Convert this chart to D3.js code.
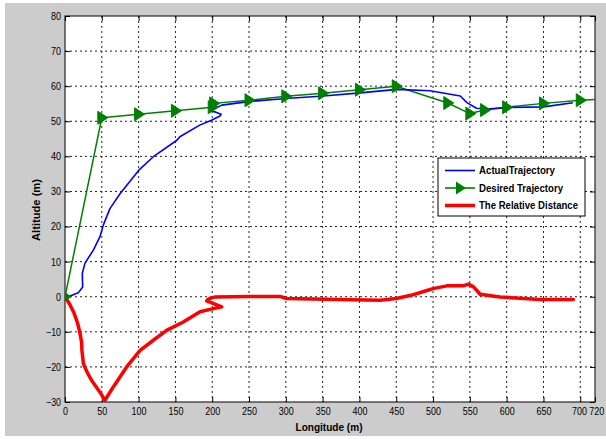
<!DOCTYPE html>
<html><head><meta charset="utf-8">
<script src="https://cdn.jsdelivr.net/npm/d3@7"></script>
<style>
body{margin:0;padding:0;background:#fff;}
svg{display:block;}
text{font-family:'Liberation Sans',Arial,sans-serif;}
</style></head>
<body>
<svg id="chart" width="606" height="439"></svg>
<script>
// ---- data ----
const xTicks = [0,50,100,150,200,250,300,350,400,450,500,550,600,650,700,720];
const yTicks = [-30,-20,-10,0,10,20,30,40,50,60,70,80];
const seriesNames = ["ActualTrajectory","Desired Trajectory","The Relative Distance"];

const desiredX = [0,50,100,150,200,202,250,300,350,400,450,520,550,570,600,650,700,720];
const desiredY = [0,51,52,53,54,55.1,56,57.1,58,59,60,55.2,52.2,53.2,54,55.1,56,56.2];
const desiredMarked = [1,1,1,1,1,1,1,1,1,1,1,1,1,1,1,1,1,0];

const actualX = [0,7,18,24,23.5,27,38.5,47.5,52,61,75,100,120,152,156,183,199,210.5,212,205,197,205,213,249,300,351,401,451,496,537,546,559,573,600,650,690];
const actualY = [0,0.2,1.1,2.8,6.6,9.5,13.3,17.1,20.4,25.1,29.4,36,39.9,44.6,45.6,48.9,50.3,51.5,52,52.6,53,53.8,54.6,55.6,56.5,57.2,58.1,59.1,58.7,57.2,55.3,53.7,53.5,53.9,54.1,55.3];

const distX = [0,6,12,17,20,22.6,23,25,30,36,47.5,54.3,65.6,83.8,102,120,138,160.7,183.4,201.5,213,192.5,195,204,251,292,301,428,450,470,495,500,518.6,541,548,555,564,591,645,690.6];
const distY = [0,-2,-4.5,-7.5,-10,-13,-15.3,-19.1,-21.5,-23.8,-27.2,-29.5,-25.7,-20,-15.3,-12.4,-9.6,-7.2,-4.3,-3.4,-2.9,-1.2,-0.6,-0.06,0.1,0.1,-0.5,-1,-0.5,0.4,2.0,2.3,3.1,3.1,3.6,2.8,0.7,-0.06,-0.8,-0.8];

const colors = {actual:"#0000ff", desired:"#008000", dist:"#ff0000"};

// ---- layout ----
const svg = d3.select("#chart");
const L=65, R=595, T=16, B=402;
svg.append("rect").attr("x",5).attr("y",3).attr("width",601).attr("height",433).attr("fill","#cccccc");
svg.append("rect").attr("x",L).attr("y",T).attr("width",R-L).attr("height",B-T).attr("fill","#ffffff");

const x = d3.scaleLinear().domain([0,720]).range([L,R]);
const y = d3.scaleLinear().domain([-30,80]).range([B,T]);

// grid
const grid = svg.append("g");
xTicks.filter(t=>t>0&&t<720).forEach(t=>{
  grid.append("line").attr("x1",x(t)).attr("x2",x(t)).attr("y1",T).attr("y2",B)
    .attr("stroke","#222").attr("stroke-width",1).attr("stroke-dasharray","2,3");
});
yTicks.filter(t=>t>-30&&t<80).forEach(t=>{
  grid.append("line").attr("x1",L).attr("x2",R).attr("y1",y(t)).attr("y2",y(t))
    .attr("stroke","#222").attr("stroke-width",1).attr("stroke-dasharray","2,3");
});

// axes via d3
const fs = 10.5;
const lenOf = s => { let w=0; for(const c of s) w += (c==="-")?3.2:5.0; return w; };
const xAxis = svg.append("g").attr("transform",`translate(0,${B})`)
  .call(d3.axisBottom(x).tickValues(xTicks).tickSizeInner(-5).tickSizeOuter(0).tickPadding(6).tickFormat(d3.format("d")));
const yAxis = svg.append("g").attr("transform",`translate(${L},0)`)
  .call(d3.axisLeft(y).tickValues(yTicks).tickSizeInner(-5).tickSizeOuter(0).tickPadding(4).tickFormat(d3.format("d")));
[xAxis,yAxis].forEach(a=>{
  a.select(".domain").remove();
  a.selectAll("text").attr("font-size",fs).attr("fill","#000")
    .style("font-family","'Liberation Sans',Arial,sans-serif")
    .attr("textLength",function(){return lenOf(this.textContent);})
    .attr("lengthAdjust","spacingAndGlyphs");
  a.selectAll(".tick line").attr("stroke","#000");
});
xAxis.selectAll(".tick").filter(d=>d===700).select("text").attr("dx","-1.2");
xAxis.selectAll(".tick").filter(d=>d===720).select("text").attr("dx","1.2");
// top and right ticks
const topAx = svg.append("g").attr("transform",`translate(0,${T})`)
  .call(d3.axisTop(x).tickValues(xTicks).tickSizeInner(-5).tickSizeOuter(0).tickFormat(""));
const rightAx = svg.append("g").attr("transform",`translate(${R},0)`)
  .call(d3.axisRight(y).tickValues(yTicks).tickSizeInner(-5).tickSizeOuter(0).tickFormat(""));
[topAx,rightAx].forEach(a=>a.select(".domain").remove());

// frame
svg.append("rect").attr("x",L).attr("y",T).attr("width",R-L).attr("height",B-T)
  .attr("fill","none").attr("stroke","#000").attr("stroke-width",1);

// clip
svg.append("clipPath").attr("id","clip").append("rect").attr("x",L).attr("y",T-8).attr("width",R-L+1).attr("height",B-T+16);
const plot = svg.append("g").attr("clip-path","url(#clip)");

const line = d3.line().x(d=>x(d[0])).y(d=>y(d[1]));
const desired = desiredX.map((v,i)=>[v,desiredY[i]]);
const actual = actualX.map((v,i)=>[v,actualY[i]]);
const dist = distX.map((v,i)=>[v,distY[i]]);

plot.append("path").datum(dist).attr("d",line).attr("fill","none").attr("stroke",colors.dist)
  .attr("stroke-width",3.5).attr("stroke-linejoin","round").attr("stroke-linecap","round");
plot.append("path").datum(desired).attr("d",line).attr("fill","none").attr("stroke",colors.desired)
  .attr("stroke-width",1.5).attr("stroke-linejoin","round");
plot.append("path").datum(actual).attr("d",line).attr("fill","none").attr("stroke",colors.actual)
  .attr("stroke-width",1.6).attr("stroke-linejoin","round");

const tri = "M-4,-6.5 L6,0 L-4,6.5 Z";
plot.selectAll("path.mk").data(desired.filter((d,i)=>desiredMarked[i])).enter().append("path")
  .attr("class","mk").attr("d",tri).attr("transform",d=>`translate(${x(d[0])},${y(d[1])})`)
  .attr("fill",colors.desired).attr("stroke",colors.desired).attr("stroke-width",1);

// axis labels
svg.append("text").attr("x",329).attr("y",431).attr("text-anchor","middle")
  .attr("font-size",11).attr("font-weight","bold")
  .attr("textLength",67).attr("lengthAdjust","spacingAndGlyphs").text("Longitude (m)");
svg.append("text").attr("transform",`translate(40,210) rotate(-90)`).attr("text-anchor","middle")
  .attr("font-size",11).attr("font-weight","bold")
  .attr("textLength",62).attr("lengthAdjust","spacingAndGlyphs").text("Altitude (m)");

// legend
const lg = svg.append("g");
lg.append("rect").attr("x",438).attr("y",158).attr("width",147).attr("height",58)
  .attr("fill","#fff").attr("stroke","#000").attr("stroke-width",1);
const lgItems = [
  {name:seriesNames[0], color:colors.actual, w:1.6, marker:false, len:76},
  {name:seriesNames[1], color:colors.desired, w:1.6, marker:true, len:84},
  {name:seriesNames[2], color:colors.dist, w:3.5, marker:false, len:99}
];
lgItems.forEach((it,i)=>{
  const yy = 170.5 + i*17.5;
  lg.append("line").attr("x1",445).attr("x2",475).attr("y1",yy).attr("y2",yy)
    .attr("stroke",it.color).attr("stroke-width",it.w);
  if(it.marker) lg.append("path").attr("d",tri).attr("transform",`translate(460,${yy})`).attr("fill",it.color);
  lg.append("text").attr("x",479).attr("y",yy).attr("dy","0.35em").attr("font-size",10.5)
    .attr("font-weight","bold").attr("textLength",it.len).attr("lengthAdjust","spacingAndGlyphs").text(it.name);
});
</script>
</body></html>
